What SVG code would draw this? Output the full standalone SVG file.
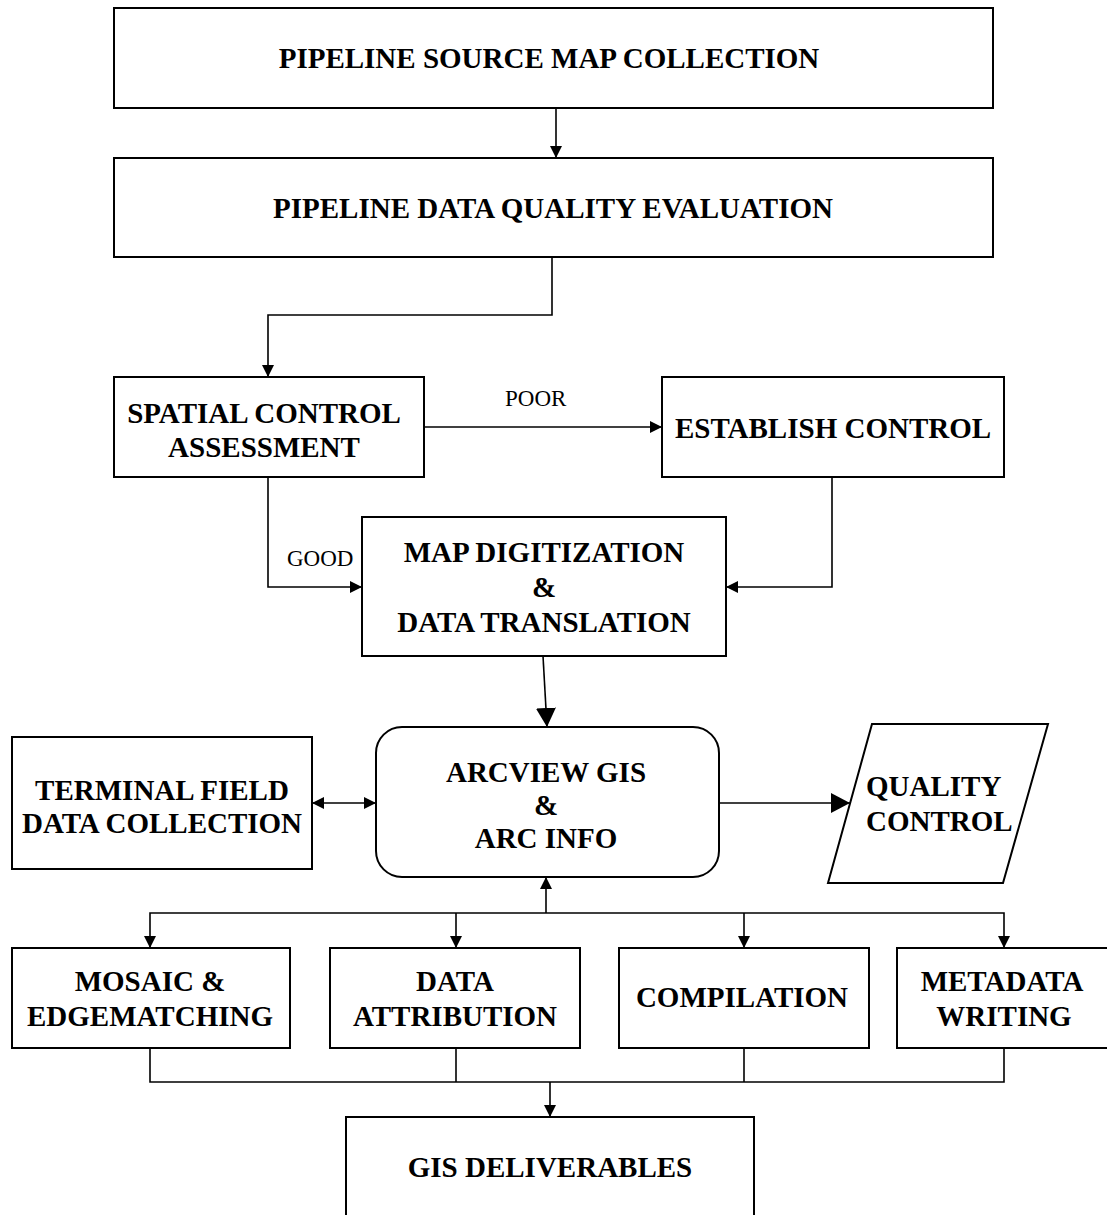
<svg xmlns="http://www.w3.org/2000/svg" width="1107" height="1215" viewBox="0 0 1107 1215">
<style>
.box{fill:#fff;stroke:#000;stroke-width:2}
.t{font-family:"Liberation Serif","Times New Roman",serif;font-weight:bold;font-size:29px;fill:#000;text-anchor:middle}
.l{font-family:"Liberation Serif","Times New Roman",serif;font-size:23px;fill:#000}
.c{fill:none;stroke:#000;stroke-width:1.6}
</style>
<defs>
<marker id="a" markerUnits="userSpaceOnUse" markerWidth="13" markerHeight="13" refX="12" refY="6" orient="auto-start-reverse"><path d="M0,0 L12,6 L0,12 z" fill="#000"/></marker>
<marker id="b" markerUnits="userSpaceOnUse" markerWidth="20" markerHeight="21" refX="19" refY="10" orient="auto"><path d="M0,0 L19,10 L0,20 z" fill="#000"/></marker>
</defs>
<rect width="1107" height="1215" fill="#fff"/>
<g id="connectors">
<line class="c" x1="556" y1="108" x2="556" y2="158" marker-end="url(#a)"/>
<polyline class="c" points="552,257 552,315 268,315 268,377" marker-end="url(#a)"/>
<line class="c" x1="424" y1="427" x2="662" y2="427" marker-end="url(#a)"/>
<polyline class="c" points="268,477 268,587 362,587" marker-end="url(#a)"/>
<polyline class="c" points="832,477 832,587 726,587" marker-end="url(#a)"/>
<line class="c" x1="543" y1="656" x2="547" y2="727" marker-end="url(#b)"/>
<line class="c" x1="312" y1="803" x2="376" y2="803" marker-start="url(#a)" marker-end="url(#a)"/>
<line class="c" x1="719" y1="803" x2="850" y2="803" marker-end="url(#b)"/>
<line class="c" x1="546" y1="913" x2="546" y2="877" marker-end="url(#a)"/>
<polyline class="c" points="150,948 150,913 1004,913 1004,948" marker-start="url(#a)" marker-end="url(#a)"/>
<line class="c" x1="456" y1="913" x2="456" y2="948" marker-end="url(#a)"/>
<line class="c" x1="744" y1="913" x2="744" y2="948" marker-end="url(#a)"/>
<polyline class="c" points="150,1048 150,1082 1004,1082 1004,1048"/>
<line class="c" x1="456" y1="1048" x2="456" y2="1082"/>
<line class="c" x1="744" y1="1048" x2="744" y2="1082"/>
<line class="c" x1="550" y1="1082" x2="550" y2="1117" marker-end="url(#a)"/>
</g>
<g id="n1"><rect class="box" x="114" y="8" width="879" height="100"/><text class="t" x="549" y="68">PIPELINE SOURCE MAP COLLECTION</text></g>
<g id="n2"><rect class="box" x="114" y="158" width="879" height="99"/><text class="t" x="553" y="218">PIPELINE DATA QUALITY EVALUATION</text></g>
<g id="n3"><rect class="box" x="114" y="377" width="310" height="100"/><text class="t" x="264" y="423">SPATIAL CONTROL</text><text class="t" x="264" y="457">ASSESSMENT</text></g>
<g id="lbl-poor"><text class="l" x="505" y="406">POOR</text></g>
<g id="n4"><rect class="box" x="662" y="377" width="342" height="100"/><text class="t" x="833" y="438">ESTABLISH CONTROL</text></g>
<g id="lbl-good"><text class="l" x="287" y="566">GOOD</text></g>
<g id="n5"><rect class="box" x="362" y="517" width="364" height="139"/><text class="t" x="544" y="562">MAP DIGITIZATION</text><text class="t" x="544" y="597">&amp;</text><text class="t" x="544" y="632">DATA TRANSLATION</text></g>
<g id="n6"><rect class="box" x="376" y="727" width="343" height="150" rx="26" ry="26"/><text class="t" x="546" y="782">ARCVIEW GIS</text><text class="t" x="546" y="815">&amp;</text><text class="t" x="546" y="848">ARC INFO</text></g>
<g id="n7"><rect class="box" x="12" y="737" width="300" height="132"/><text class="t" x="162" y="800">TERMINAL FIELD</text><text class="t" x="162" y="833">DATA COLLECTION</text></g>
<g id="n8"><polygon class="box" points="872,724 1048,724 1003,883 828,883"/><text class="t" x="866" y="796" style="text-anchor:start">QUALITY</text><text class="t" x="866" y="831" style="text-anchor:start">CONTROL</text></g>
<g id="n9"><rect class="box" x="12" y="948" width="278" height="100"/><text class="t" x="150" y="991">MOSAIC &amp;</text><text class="t" x="150" y="1026">EDGEMATCHING</text></g>
<g id="n10"><rect class="box" x="330" y="948" width="250" height="100"/><text class="t" x="455" y="991">DATA</text><text class="t" x="455" y="1026">ATTRIBUTION</text></g>
<g id="n11"><rect class="box" x="619" y="948" width="250" height="100"/><text class="t" x="742" y="1007">COMPILATION</text></g>
<g id="n12"><rect class="box" x="897" y="948" width="220" height="100"/><text class="t" x="1002" y="991">METADATA</text><text class="t" x="1004" y="1026">WRITING</text></g>
<g id="n13"><rect class="box" x="346" y="1117" width="408" height="110"/><text class="t" x="550" y="1177">GIS DELIVERABLES</text></g>
</svg>
